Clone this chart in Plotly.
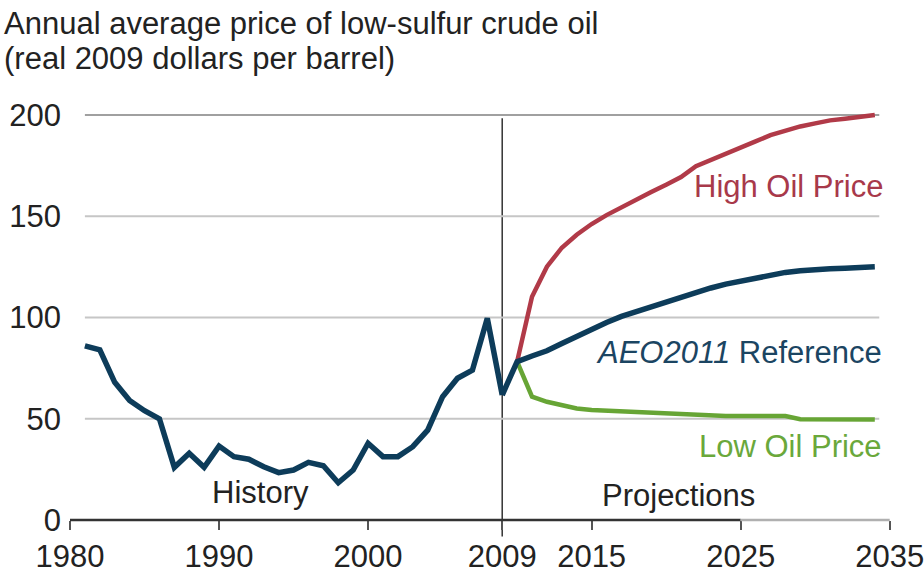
import plotly.graph_objects as go

# ---- data ----
hist_years = list(range(1981, 2010))
hist_price = [86, 84, 68, 59, 54, 50, 26, 33, 26, 36.5, 31.3, 30, 26.3, 23.4, 24.7,
              28.5, 26.8, 18.4, 24.7, 37.9, 31.3, 31.3, 36.2, 44.4, 60.9, 70, 74, 99.6, 61.7]

proj_years = list(range(2010, 2035))
ref_price = [78.2, 81.0, 83.6, 87.2, 90.9, 94.3, 97.6, 100.6, 103.0, 105.7, 107.8, 110.4,
             112.6, 114.6, 116.5, 118.0, 119.5, 120.8, 122.3, 123.1, 123.8, 124.1, 124.4, 124.8, 125.1]
high_price = [78.2, 110.3, 125.1, 134.5, 140.9, 146.2, 150.6, 154.6, 158.3, 162.0, 165.6, 169.4,
              174.8, 177.8, 180.7, 183.4, 187.0, 190.1, 192.3, 194.4, 195.9, 197.4, 198.2, 199.0, 200.0]
low_price = [78.2, 60.9, 58.4, 56.8, 55.1, 54.3, 54.0, 53.5, 53.2, 52.7, 52.3, 52.0,
             51.7, 51.4, 51.4, 51.4, 51.4, 51.4, 51.4, 49.8, 49.8, 49.7, 49.7, 49.7, 49.7]

x_ticks = [1980, 1990, 2000, 2009, 2015, 2025, 2035]
y_ticks = [0, 50, 100, 150, 200]

NAVY = "#0d3c5a"
RED = "#b13a48"
GREEN = "#67a535"
FONT = "Liberation Sans, Arial, sans-serif"
FS = 31

fig = go.Figure()
fig.add_trace(go.Scatter(x=proj_years, y=low_price, mode="lines",
                         line=dict(color=GREEN, width=4.5), hoverinfo="skip"))
fig.add_trace(go.Scatter(x=proj_years, y=high_price, mode="lines",
                         line=dict(color=RED, width=4.5), hoverinfo="skip"))
fig.add_trace(go.Scatter(x=[hist_years[-1]] + proj_years, y=[hist_price[-1]] + ref_price,
                         mode="lines", line=dict(color=NAVY, width=5.5), hoverinfo="skip"))
fig.add_trace(go.Scatter(x=hist_years, y=hist_price, mode="lines",
                         line=dict(color=NAVY, width=5.5), hoverinfo="skip"))

shapes = []
# horizontal gridlines
for v in y_ticks[1:]:
    shapes.append(dict(type="line", xref="x", yref="y", x0=1981, x1=2034.3, y0=v, y1=v,
                       line=dict(color="#a0a0a0" if v == 200 else "#c6c6c6", width=2),
                       layer="below"))
# x axis line (dark then light segment)
shapes.append(dict(type="line", xref="x", yref="paper", x0=1980, x1=2025, y0=0, y1=0,
                   line=dict(color="#333333", width=2.5)))
shapes.append(dict(type="line", xref="x", yref="paper", x0=2025, x1=2035, y0=0, y1=0,
                   line=dict(color="#b0b0b0", width=2.5)))
# 2009 divider
shapes.append(dict(type="line", xref="x", yref="paper", x0=2009, x1=2009, y0=-0.04, y1=0.973,
                   line=dict(color="#333333", width=1.5), layer="below"))

def px_x(px):
    return (px - 70) / 820.0

def px_y(py):
    return (520 - py) / 413.0

annotations = [
    dict(text="Annual average price of low-sulfur crude oil", x=px_x(2), y=px_y(23),
         xanchor="left", yanchor="middle", font=dict(size=FS, color="#222222")),
    dict(text="(real 2009 dollars per barrel)", x=px_x(2), y=px_y(58),
         xanchor="left", yanchor="middle", font=dict(size=FS, color="#222222")),
    dict(text="High Oil Price", x=px_x(886), y=px_y(186), xanchor="right", yanchor="middle",
         font=dict(size=FS, color="#a8394a")),
    dict(text="<i>AEO2011</i> Reference", x=px_x(884), y=px_y(352), xanchor="right",
         yanchor="middle", font=dict(size=FS, color="#1b4562")),
    dict(text="Low Oil Price", x=px_x(884), y=px_y(446), xanchor="right", yanchor="middle",
         font=dict(size=FS, color="#6aa83b")),
    dict(text="History", x=px_x(260), y=px_y(492), xanchor="center", yanchor="middle",
         font=dict(size=FS, color="#222222")),
    dict(text="Projections", x=px_x(678), y=px_y(495), xanchor="center", yanchor="middle",
         font=dict(size=FS, color="#222222")),
]
for a in annotations:
    a.update(xref="paper", yref="paper", showarrow=False)

fig.update_layout(
    width=924, height=573,
    margin=dict(l=70, r=34, t=107, b=53, autoexpand=False),
    paper_bgcolor="white", plot_bgcolor="white",
    showlegend=False,
    font=dict(family=FONT, size=FS, color="#222222"),
    shapes=shapes, annotations=annotations,
    xaxis=dict(range=[1980, 2035.02], tickvals=x_ticks, ticktext=[str(t) for t in x_ticks],
               showgrid=False, zeroline=False, showline=False, automargin=False,
               ticks="outside", ticklen=9, tickwidth=1.5, tickcolor="#555555",
               ticklabelstandoff=0, ticklabeloverflow="allow",
               tickfont=dict(size=FS, color="#222222")),
    yaxis=dict(range=[0, 204], tickvals=y_ticks, showgrid=False, zeroline=False,
               showline=False, ticks="", ticklabelstandoff=8, automargin=False,
               tickfont=dict(size=FS, color="#222222")),
)

fig.write_html(
    "out.html",
    config={"displayModeBar": False},
    post_script="document.body.style.margin='0';document.body.style.overflow='hidden';",
)
